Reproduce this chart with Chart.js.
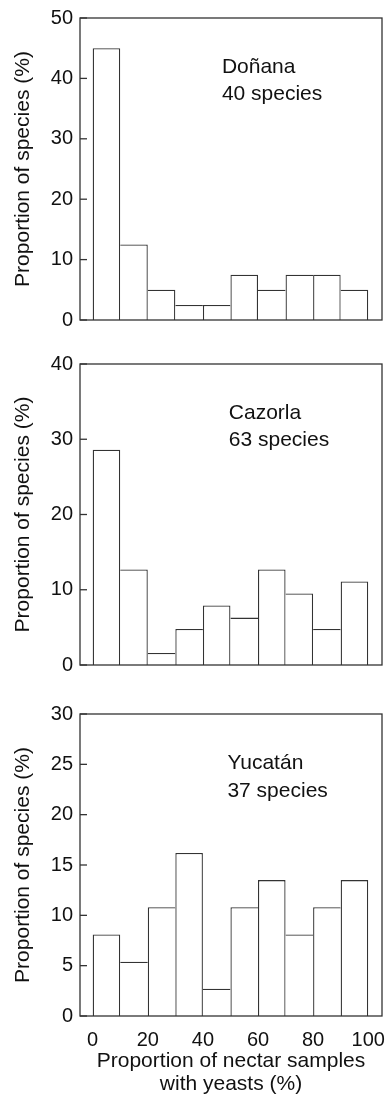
<!DOCTYPE html>
<html><head><meta charset="utf-8">
<script src="https://cdn.jsdelivr.net/npm/chart.js@4.4.0/dist/chart.umd.min.js"></script>
<style>
html,body{margin:0;padding:0;background:#fff;width:386px;height:1098px;overflow:hidden}
.p{position:absolute;left:0;width:386px}
</style></head><body>
<div class="p" style="top:0;height:340px"><canvas id="c1"></canvas></div>
<div class="p" style="top:340px;height:350px"><canvas id="c2"></canvas></div>
<div class="p" style="top:690px;height:408px"><canvas id="c3"></canvas></div>
<script>
// ---- data ----
const binCenters = [5, 15, 25, 35, 45, 55, 65, 75, 85, 95];
const xTickValues = [0, 20, 40, 60, 80, 100];
const donanaValues  = [45, 12.5, 5, 2.5, 2.5, 7.5, 5, 7.5, 7.5, 5];
const cazorlaValues = [28.6, 12.7, 1.6, 4.8, 7.9, 6.3, 12.7, 9.5, 4.8, 11.1];
const yucatanValues = [8.1, 5.4, 10.8, 16.2, 2.7, 10.8, 13.5, 8.1, 10.8, 13.5];
const donanaTicks  = [0, 10, 20, 30, 40, 50];
const cazorlaTicks = [0, 10, 20, 30, 40];
const yucatanTicks = [0, 5, 10, 15, 20, 25, 30];
const siteLabels = [['Doñana', '40 species'], ['Cazorla', '63 species'], ['Yucatán', '37 species']];
const yTitle = 'Proportion of species (%)';
const xTitle = ['Proportion of nectar samples', 'with yeasts (%)'];

// ---- styling ----
const FONT = "'Liberation Sans', Arial, Helvetica, sans-serif";
Chart.defaults.font.family = FONT;
Chart.defaults.color = '#111';
const LINE = '#333';
const LW = 1.3;

function sideBorders(vals, i) {
  const h = vals[i];
  const left = (i === 0 || h >= vals[i - 1]) ? LW : 0;
  const right = (i === vals.length - 1 || h > vals[i + 1]) ? LW : 0;
  return {top: LW, bottom: 0, left: left, right: right};
}

const framePlugin = {
  id: 'frame',
  afterDatasetsDraw(chart, args, opts) {
    const {ctx, chartArea: a, scales: {x, y}} = chart;
    ctx.save();
    ctx.strokeStyle = LINE;
    ctx.lineWidth = LW;
    ctx.strokeRect(a.left, a.top, a.right - a.left, a.bottom - a.top);
    y.ticks.forEach(t => {
      const py = y.getPixelForValue(t.value);
      ctx.beginPath();
      ctx.moveTo(a.left, py);
      ctx.lineTo(a.left + 7, py);
      ctx.stroke();
    });
    ctx.fillStyle = '#111';
    ctx.font = '21px ' + FONT;
    ctx.textBaseline = 'alphabetic';
    ctx.textAlign = 'left';
    const px = x.getPixelForValue(opts.labelX);
    const py = y.getPixelForValue(opts.labelY);
    opts.lines.forEach((s, i) => ctx.fillText(s, px, py + i * 27.5));
    ctx.restore();
  }
};

function makeChart(id, values, yTicks, cfg) {
  return new Chart(document.getElementById(id), {
    type: 'bar',
    data: {
      datasets: [{
        data: binCenters.map((c, i) => ({x: c, y: values[i]})),
        backgroundColor: '#fff',
        borderColor: LINE,
        borderWidth: ctx => sideBorders(values, ctx.dataIndex),
        borderSkipped: false,
        barPercentage: 1,
        categoryPercentage: 1,
        inflateAmount: 0
      }]
    },
    options: {
      responsive: true,
      maintainAspectRatio: false,
      animation: false,
      events: [],
      layout: {padding: {top: cfg.top, right: 4, left: 0, bottom: 0}},
      plugins: {
        legend: {display: false},
        tooltip: {enabled: false},
        frame: {labelX: cfg.labelX, labelY: cfg.labelY, lines: cfg.lines}
      },
      scales: {
        x: {
          type: 'linear', min: -4.6, max: 105, offset: false,
          grid: {display: false, drawTicks: false}, border: {display: false},
          afterBuildTicks: s => { s.ticks = xTickValues.map(v => ({value: v})); },
          ticks: {display: cfg.showX, padding: 12, font: {size: 20}, color: '#111', maxRotation: 0, autoSkip: false},
          title: {display: cfg.showX, text: xTitle, color: '#111',
                  font: {size: 21, lineHeight: 22.5 / 21}, padding: {top: 0, bottom: 3}},
          afterFit: s => { s.height = cfg.xh; s.paddingLeft = 0; s.paddingRight = 0; }
        },
        y: {
          min: 0, max: yTicks[yTicks.length - 1],
          grid: {display: false, drawTicks: false}, border: {display: false},
          afterBuildTicks: s => { s.ticks = yTicks.map(v => ({value: v})); },
          ticks: {padding: 7, font: {size: 20}, color: '#111'},
          title: {display: true, text: yTitle, color: '#111', font: {size: 21}, padding: {top: 11, bottom: 0}},
          afterFit: s => { s.width = 80; s.paddingTop = 0; s.paddingBottom = 0; }
        }
      }
    },
    plugins: [framePlugin]
  });
}

makeChart('c1', donanaValues, donanaTicks,
  {top: 18, xh: 20, showX: false, labelX: 46.9, labelY: 40.9, lines: siteLabels[0]});
makeChart('c2', cazorlaValues, cazorlaTicks,
  {top: 24, xh: 25, showX: false, labelX: 49.4, labelY: 32.7, lines: siteLabels[1]});
makeChart('c3', yucatanValues, yucatanTicks,
  {top: 24, xh: 82, showX: true, labelX: 48.9, labelY: 24.5, lines: siteLabels[2]});
</script>
</body></html>
